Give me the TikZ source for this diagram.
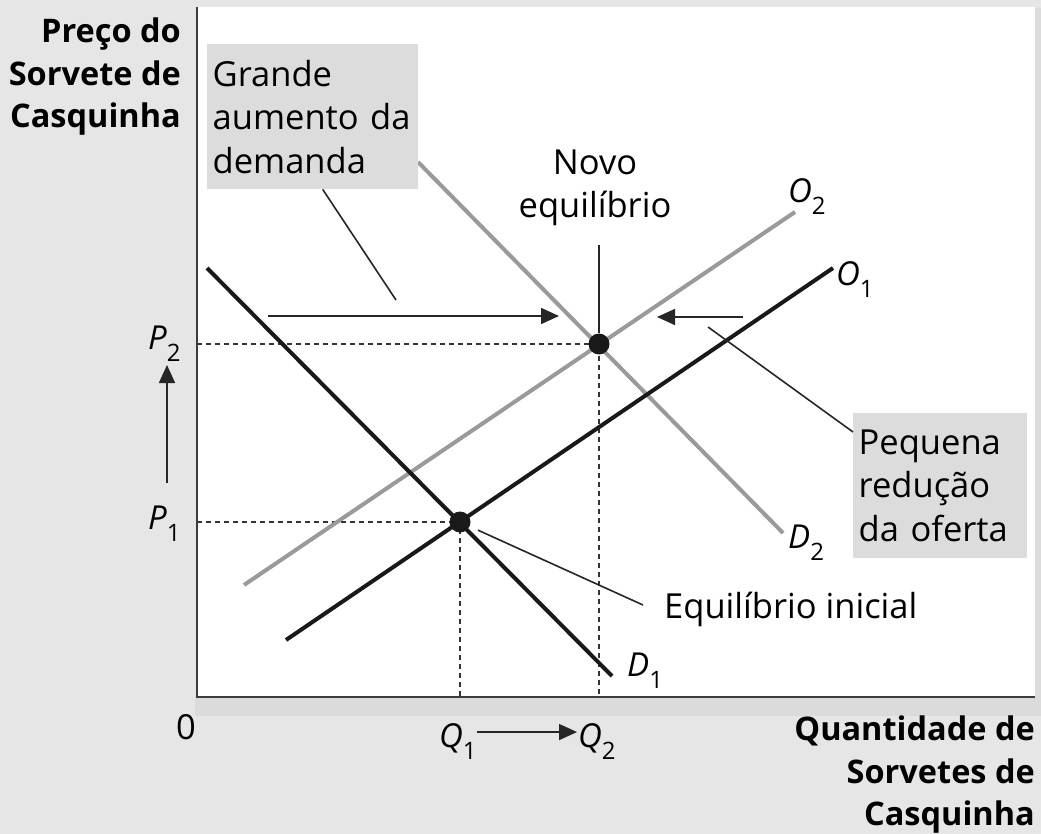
\documentclass[tikz,border=0pt]{standalone}
\usepackage{fontspec}
\setmainfont{Open Sans}
\usetikzlibrary{calc}
\usetikzlibrary{arrows.meta}
\usetikzlibrary{positioning}
\definecolor{bggray}{HTML}{E6E6E6}
\definecolor{shadegray}{HTML}{DBDBDC}
\definecolor{boxgray}{HTML}{DCDCDD}
\definecolor{curvegray}{HTML}{9A9A9A}
\definecolor{axisgray}{HTML}{3C3C3C}
\newcommand{\txt}{\fontsize{34.5}{43.5}\selectfont}
\newcommand{\headtxt}{\fontsize{32.5}{42.5}\selectfont\bfseries}
\newcommand{\econ}[2]{{\fontsize{33}{33}\selectfont\itshape #1}\raisebox{-12pt}{\fontsize{24}{24}\selectfont #2}}
\tikzstyle{axisline}=[line width=2pt,axisgray]
\tikzstyle{blackcurve}=[line width=4pt,black!90]
\tikzstyle{graycurve}=[line width=4pt,curvegray]
\tikzstyle{guideline}=[line width=1.5pt,dash pattern=on 5pt off 4pt,black!80]
\tikzstyle{leaderline}=[line width=1.6pt,black!85]
\tikzstyle{shiftarrow}=[line width=1.6pt,black!85,-{Triangle[length=18pt,width=16pt]}]
\tikzstyle{eqdot}=[circle,fill=black!90,minimum size=21pt,inner sep=0pt]
\tikzstyle{notebox}=[fill=boxgray,align=left,anchor=north west,inner xsep=5.5pt,inner ysep=0pt,font=\txt]
\tikzstyle{plain}=[inner sep=0pt]
\tikzstyle{heading}=[inner sep=0pt,anchor=north east,align=right,font=\headtxt]

\begin{document}
\begin{tikzpicture}[x=1pt,y=-1pt]
\useasboundingbox (0,0) rectangle (1041,834);
\fill[bggray] (0,0) rectangle (1041,834);
% panel with its shadow
\fill[shadegray] (195,697) rectangle (1041,716);
\fill[shadegray] (1035,8) rectangle (1041,716);
\fill[white] (197,7) rectangle (1035,697);
\coordinate (origin) at (197,697);
\coordinate (yTop) at (197,7);
\coordinate (xEnd) at (1035,697);
% equilibria
\coordinate (eq1) at (460,522);
\coordinate (eq2) at (599,344);
\draw[guideline] (origin |- eq1) -- (eq1) -- (origin -| eq1);
\draw[guideline] (origin |- eq2) -- (eq2) -- (origin -| eq2);
\draw[axisline] (yTop) -- (origin) -- (xEnd);
% curves
\coordinate (d1a) at (207,268); \coordinate (d1b) at (612,676);
\coordinate (d2a) at (418,162); \coordinate (d2b) at (783,533);
\coordinate (o1a) at (286,640); \coordinate (o1b) at (833,268);
\coordinate (o2a) at (244,585); \coordinate (o2b) at (795,212);
\draw[graycurve] (o2a) -- (o2b);
\draw[graycurve] (d2a) -- (d2b);
\draw[blackcurve] (d1a) -- (d1b);
\draw[blackcurve] (o1a) -- (o1b);
\node[eqdot] (E1) at (eq1) {};
\node[eqdot] (E2) at (eq2) {};
% curve labels
\node[plain,anchor=base west] (labD1) at (627,676) {\econ{D}{1}};
\node[plain,anchor=base west] (labD2) at (788,548) {\econ{D}{2}};
\node[plain,anchor=base west] (labO1) at (836,286) {\econ{O}{1}};
\node[plain,anchor=base west] (labO2) at (788,203) {\econ{O}{2}};
% axis labels
\node[plain,anchor=base west] (labP2) at (148,349) {\econ{P}{2}};
\node[plain,anchor=base west] (labP1) at (148,529) {\econ{P}{1}};
\node[plain,anchor=base west] (labQ1) at (439,747) {\econ{Q}{1}};
\node[plain,anchor=base west] (labQ2) at (578,747) {\econ{Q}{2}};
\node[plain,font=\txt] (zero) at (186,727) {0};
\coordinate (pArrowA) at (167,483); \coordinate (pArrowB) at (167,365);
\draw[shiftarrow] (pArrowA) -- (pArrowB);
\draw[shiftarrow] ([yshift=9pt]labQ1.east) -- ([yshift=9pt,xshift=-1pt]labQ2.west);
\node[heading] (yTitle) at (181,18) {Preço do\\Sorvete de\\Casquinha};
\node[heading] (xTitle) at (1035,716) {Quantidade de\\Sorvetes de\\Casquinha};
% shifts
\coordinate (dShiftA) at (268,316); \coordinate (dShiftB) at (559,316);
\coordinate (oShiftA) at (743,317); \coordinate (oShiftB) at (657,317);
\draw[shiftarrow] (dShiftA) -- (dShiftB);
\draw[shiftarrow] (oShiftA) -- (oShiftB);
% notes
\node[notebox,minimum width=211pt,minimum height=145pt,text width=200pt] (bigD) at (207,44) {Grande\\aumento da\\demanda};
\node[notebox,minimum width=174pt,minimum height=145pt,text width=163pt] (redO) at (853,413) {Pequena\\redução\\da oferta};
\coordinate (gLead) at (396,300);
\draw[leaderline] ([xshift=10pt]bigD.south) -- (gLead);
\coordinate (oLead) at (708,327);
\draw[leaderline] (oLead) -- ([yshift=-19pt]redO.north west);
\node[plain,align=center,font=\txt] (newEq) at (595,188) {Novo\\equilíbrio};
\coordinate (newEqFoot) at (599,245);
\draw[leaderline] (newEqFoot) -- (E2);
\node[plain,anchor=base west,font=\txt] (iniEq) at (664,618) {Equilíbrio inicial};
\coordinate (iniFoot) at (643,605);
\draw[leaderline,shorten <=9pt] (E1) -- (iniFoot);
\end{tikzpicture}
\end{document}
